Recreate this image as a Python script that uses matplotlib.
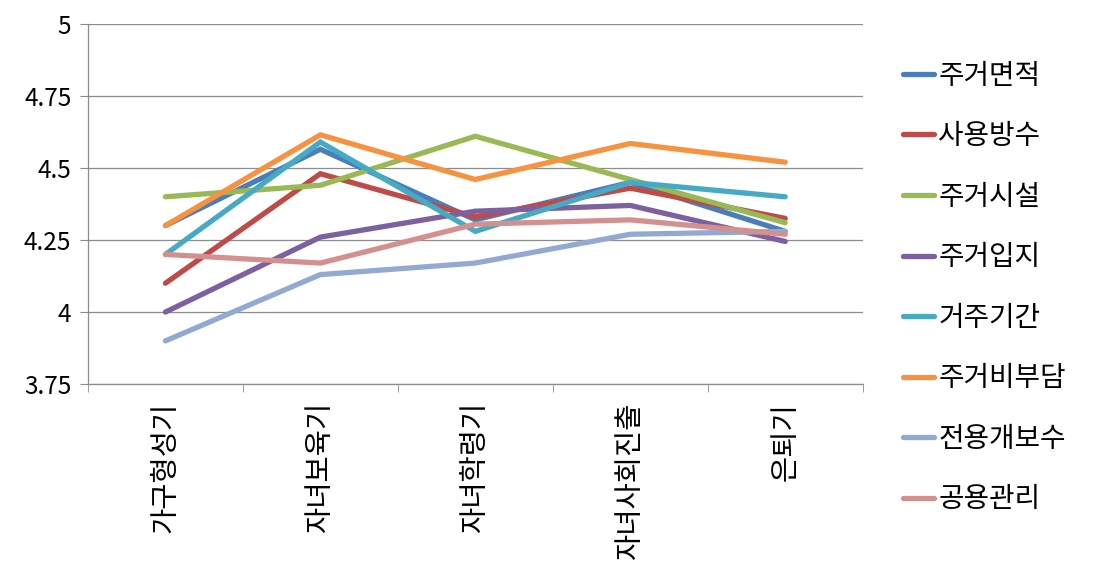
import matplotlib
matplotlib.use("Agg")
import matplotlib.pyplot as plt
import numpy as np

plt.rcParams['font.family'] = ['Noto Sans CJK KR', 'DejaVu Sans']

categories = ['가구형성기', '자녀보육기', '자녀학령기', '자녀사회진출', '은퇴기']
series_names = ['주거면적', '사용방수', '주거시설', '주거입지', '거주기간', '주거비부담', '전용개보수', '공용관리']
area      = [4.30, 4.565, 4.32, 4.45, 4.28]
rooms     = [4.10, 4.48, 4.33, 4.43, 4.325]
facility  = [4.40, 4.44, 4.61, 4.46, 4.31]
location  = [4.00, 4.26, 4.35, 4.37, 4.245]
duration  = [4.20, 4.59, 4.28, 4.45, 4.40]
cost      = [4.30, 4.615, 4.46, 4.585, 4.52]
repair    = [3.90, 4.13, 4.17, 4.27, 4.28]
common    = [4.20, 4.17, 4.305, 4.32, 4.27]
yticks = [3.75, 4, 4.25, 4.5, 4.75, 5]
ytick_labels = ['3.75', '4', '4.25', '4.5', '4.75', '5']

series = [area, rooms, facility, location, duration, cost, repair, common]
colors = ['#4A7EBB', '#BE4B48', '#98B954', '#7D60A0', '#46AAC5', '#F69240', '#92AAD2', '#D4908F']

fig = plt.figure(figsize=(10.99, 5.82), dpi=100)
ax = fig.add_axes([0.080, 0.340, 0.705, 0.619])

x = np.arange(len(categories))
for vals, name, c in zip(series, series_names, colors):
    ax.plot(x, vals, color=c, lw=3.8, label=name, solid_capstyle='round', solid_joinstyle='miter')

ax.set_xlim(-0.5, len(categories) - 0.5)
ax.set_ylim(3.75, 5)
ax.set_yticks(yticks)
ax.set_yticklabels(ytick_labels, fontsize=17.5)
ax.yaxis.grid(True, color='#8C8C8C', lw=0.9)
ax.set_axisbelow(True)

ax.set_xticks(x)
ax.set_xticklabels(categories, rotation=90, fontsize=20.5, va='top')
ax.tick_params(axis='x', length=0, pad=13)
ax.set_xticks(np.arange(-0.5, len(categories) + 0.5, 1), minor=True)
ax.tick_params(axis='x', which='minor', length=6, color='#8C8C8C', direction='out')
ax.tick_params(axis='y', length=6, color='#8C8C8C', direction='out', pad=6)

for s in ['top', 'right']:
    ax.spines[s].set_visible(False)
for s in ['left', 'bottom']:
    ax.spines[s].set_color('#8C8C8C')
    ax.spines[s].set_linewidth(0.9)

leg = fig.legend(loc='upper left', bbox_to_anchor=(0.812, 0.915), frameon=False,
                 fontsize=20, handlelength=1.1, handletextpad=0.15, labelspacing=1.1,
                 borderaxespad=0)

fig.savefig('out.png', dpi=100)
